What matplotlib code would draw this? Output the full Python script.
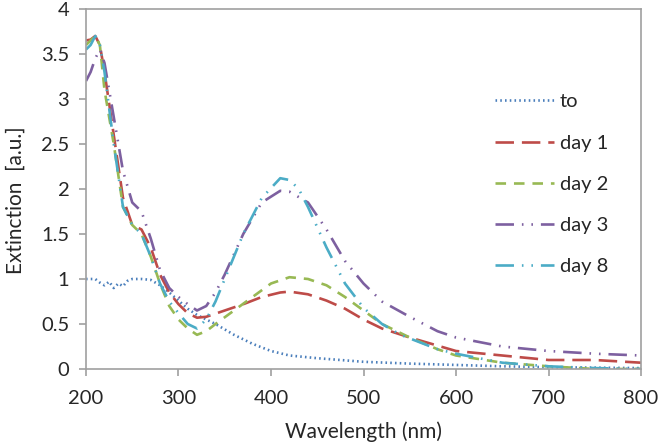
import matplotlib.pyplot as plt

plt.rcParams["font.family"] = ["Lato", "DejaVu Sans"]

# Extinction spectra
wl_to = [200, 210, 215, 220, 225, 230, 235, 240, 245, 250, 260, 270, 280, 290, 300, 310, 320, 340,
         360, 380, 400, 420, 450, 500, 550, 600, 650, 700, 750, 800]
ext_to = [1.0, 1.0, 0.96, 0.93, 0.97, 0.9, 0.95, 0.92, 0.98, 1.0, 1.0, 0.99, 0.93, 0.85, 0.76, 0.67,
          0.6, 0.5, 0.38, 0.28, 0.2, 0.15, 0.12, 0.08, 0.06, 0.045, 0.03, 0.02, 0.015, 0.01]

wl_d1 = [200, 205, 210, 215, 220, 230, 240, 250, 260, 270, 280, 290, 300, 310, 320, 330, 350, 370,
         390, 410, 420, 440, 460, 480, 500, 520, 550, 600, 650, 700, 750, 800]
ext_d1 = [3.65, 3.66, 3.7, 3.6, 3.3, 2.6, 1.9, 1.6, 1.55, 1.35, 1.05, 0.85, 0.72, 0.62, 0.57, 0.58,
          0.65, 0.72, 0.8, 0.85, 0.86, 0.83, 0.76, 0.67, 0.55, 0.45, 0.35, 0.2, 0.15, 0.1, 0.1, 0.07]

wl_d2 = [200, 205, 210, 215, 220, 230, 240, 250, 260, 270, 280, 290, 300, 310, 320, 330, 340, 360,
         380, 400, 420, 440, 460, 480, 500, 520, 550, 580, 600, 650, 700, 750, 800]
ext_d2 = [3.6, 3.65, 3.7, 3.6, 3.1, 2.5, 1.8, 1.6, 1.5, 1.25, 0.95, 0.7, 0.55, 0.45, 0.38, 0.42, 0.5,
          0.65, 0.8, 0.95, 1.02, 1.0, 0.93, 0.8, 0.65, 0.5, 0.35, 0.22, 0.15, 0.07, 0.03, 0.0, 0.0]

wl_d3 = [200, 205, 210, 215, 220, 230, 240, 250, 260, 270, 280, 290, 300, 310, 320, 330, 340, 350,
         370, 390, 410, 420, 440, 460, 480, 500, 520, 550, 580, 600, 650, 700, 750, 800]
ext_d3 = [3.2, 3.3, 3.45, 3.55, 3.4, 2.8, 2.2, 1.85, 1.75, 1.45, 1.1, 0.9, 0.8, 0.72, 0.65, 0.7,
          0.85, 1.05, 1.5, 1.85, 1.98, 1.97, 1.85, 1.55, 1.2, 0.95, 0.75, 0.58, 0.42, 0.35, 0.25,
          0.2, 0.17, 0.15]

wl_d8 = [200, 205, 210, 215, 220, 230, 240, 250, 260, 270, 280, 290, 300, 310, 320, 330, 340, 350,
         370, 390, 410, 420, 430, 440, 460, 480, 500, 520, 540, 560, 580, 600, 650, 700, 750, 800]
ext_d8 = [3.55, 3.6, 3.7, 3.6, 3.3, 2.5, 1.8, 1.6, 1.5, 1.25, 0.95, 0.75, 0.62, 0.5, 0.45, 0.55,
          0.75, 1.0, 1.5, 1.9, 2.12, 2.1, 2.0, 1.8, 1.35, 0.95, 0.68, 0.5, 0.38, 0.3, 0.22, 0.17,
          0.07, 0.03, 0.01, 0.0]

fig = plt.figure(figsize=(6.69, 4.43), dpi=100)
ax = fig.add_axes([86 / 669, 1 - 369 / 443, (641 - 86) / 669, (369 - 9) / 443])

lw = 1.9
ax.plot(wl_to, ext_to, color="#4a7ebb", lw=lw, linestyle=(0, (0.6, 1.2)), label="to")
ax.plot(wl_d1, ext_d1, color="#be4b48", lw=lw, linestyle=(0, (7, 3)), label="day 1")
ax.plot(wl_d2, ext_d2, color="#98b954", lw=lw, linestyle=(0, (4, 3)), label="day 2")
ax.plot(wl_d3, ext_d3, color="#7d60a0", lw=lw, linestyle=(0, (7, 3, 0.6, 3, 0.6, 3)), label="day 3")
ax.plot(wl_d8, ext_d8, color="#4bacc6", lw=lw, linestyle=(0, (7, 3, 0.6, 3, 0.6, 3)), label="day 8")

ax.set_xlim(200, 800)
ax.set_ylim(0, 4)
ax.set_xticks(range(200, 801, 100))
ax.set_yticks([0, 0.5, 1, 1.5, 2, 2.5, 3, 3.5, 4])
ax.set_yticklabels(["0", "0.5", "1", "1.5", "2", "2.5", "3", "3.5", "4"])

for s in ax.spines.values():
    s.set_color("#a0a0a0")
    s.set_linewidth(1.2)
ax.tick_params(colors="#a0a0a0", labelcolor="#262626", labelsize=14.5, length=5, width=1.2)
ax.tick_params(axis="x", pad=10)
ax.tick_params(axis="y", pad=7)
ax.set_xlabel("Wavelength (nm)", fontsize=15, color="#262626")
ax.xaxis.set_label_coords(0.5, -0.145)
ax.set_ylabel("Extinction  [a.u.]", fontsize=15, color="#262626")
ax.yaxis.set_label_coords(-0.108, 0.47)

ax.legend(loc="center left", bbox_to_anchor=(0.705, 0.513), frameon=False, fontsize=14.5,
          handlelength=2.9, labelspacing=1.2, handletextpad=0.3, labelcolor="#262626")

fig.savefig("out.png", dpi=100)
